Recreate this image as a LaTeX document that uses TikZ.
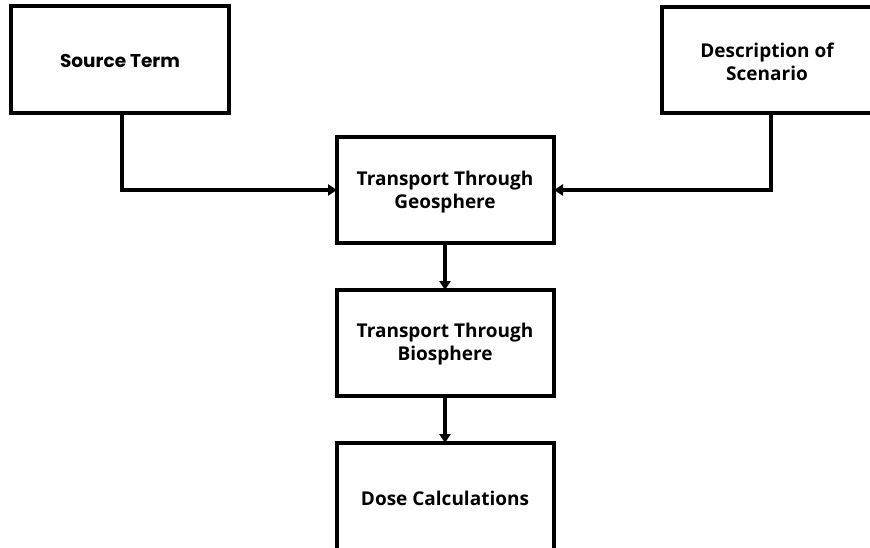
\documentclass[tikz,border=0pt]{standalone}
\usepackage{fontspec}
\setmainfont{Open Sans}
\newfontfamily\srcfont{Poppins}
\usetikzlibrary{arrows.meta}
\begin{document}
\begin{tikzpicture}[x=1pt,y=-1pt,
  blk/.style={draw=black,line width=3.5pt,fill=white},
  lbl/.style={font=\fontsize{19}{23}\selectfont\bfseries,align=center,inner sep=0pt},
  conn/.style={draw=black,line width=3.5pt,-{Triangle[length=9pt,width=11pt]}}]
\useasboundingbox (0,0) rectangle (870,548);
\fill[white] (0,0) rectangle (870,548);
% boxes
\draw[blk] (11,6) rectangle (229,113);
\coordinate (srcB) at (122,113);
\node[lbl,font=\srcfont\fontsize{18.5}{22}\selectfont\bfseries] (src) at (120,61) {Source Term};
\draw[blk] (662,7) rectangle (890,113);
\coordinate (descB) at (771,113);
\node[lbl] (desc) at (767,62) {Description of\\Scenario};
\draw[blk] (337,137) rectangle (554,243);
\node[lbl] (geo) at (445,192) {Transport Through\\Geosphere};
\coordinate (geoL) at (337,190);
\coordinate (geoR) at (554,190);
\coordinate (geoB) at (445,243);
\draw[blk] (337,290) rectangle (554,396);
\node[lbl] (bio) at (445,344) {Transport Through\\Biosphere};
\coordinate (bioT) at (445,290);
\coordinate (bioB) at (445,396);
\draw[blk] (337,443) rectangle (554,560);
\node[lbl] (dose) at (445,498) {Dose Calculations};
\coordinate (doseT) at (445,443);
% connectors
\draw[conn] (srcB) |- (geoL);
\draw[conn] (descB) |- (geoR);
\draw[conn] (geoB) -- (bioT);
\draw[conn] (bioB) -- (doseT);
\end{tikzpicture}
\end{document}
